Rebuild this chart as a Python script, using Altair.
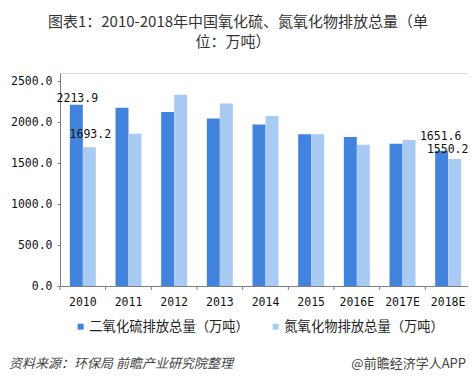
import altair as alt
import pandas as pd

years = ["2010", "2011", "2012", "2013", "2014", "2015", "2016E", "2017E", "2018E"]
so2 = [2213.9, 2177, 2123, 2045, 1970, 1853, 1818, 1736, 1651.6]
nox = [1693.2, 1857, 2334, 2228, 2076, 1853, 1724, 1783, 1550.2]
series = ["二氧化硫排放总量（万吨）", "氮氧化物排放总量（万吨）"]
colors = ["#4283DD", "#A9CAF3"]
title_lines = ["图表1：2010-2018年中国氧化硫、氮氧化物排放总量（单", "位：万吨）"]
source = "资料来源：环保局 前瞻产业研究院整理"
brand = "@前瞻经济学人APP"

rows = []
for i, y in enumerate(years):
    rows.append({"year": y, "series": series[0], "value": so2[i]})
    rows.append({"year": y, "series": series[1], "value": nox[i]})
df = pd.DataFrame(rows)

W, H = 411, 213
mono = "DejaVu Sans Mono"
cjk = "Noto Sans CJK SC"

xenc = alt.X("year:N", sort=years, scale=alt.Scale(paddingInner=0, paddingOuter=0),
             axis=alt.Axis(title=None, ticks=False, labelFont=mono, labelFontSize=11.5,
                           labelColor="#111", labelPadding=10, domainColor="#808080",
                           labelAngle=0))
xoff = alt.XOffset("series:N", sort=series, scale=alt.Scale(paddingOuter=0.757, paddingInner=0))

bars = alt.Chart(df).mark_bar().encode(
    x=xenc,
    xOffset=xoff,
    y=alt.Y("value:Q", scale=alt.Scale(domain=[0, 2500]),
            axis=alt.Axis(title=None, values=[0, 500, 1000, 1500, 2000, 2500], format=".1f",
                          grid=False, tickSize=3, tickColor="#808080", domainColor="#808080",
                          labelFont=mono, labelFontSize=11.5, labelColor="#111", labelPadding=5)),
    color=alt.Color("series:N", sort=series, scale=alt.Scale(domain=series, range=colors),
                    legend=alt.Legend(title=None, orient="none", direction="horizontal",
                                      legendX=14, legendY=247, symbolType="square",
                                      symbolSize=36, symbolStrokeWidth=0, labelFont=cjk,
                                      labelFontSize=13.3, labelColor="#222", columnPadding=20,
                                      labelOffset=2)),
)

ticks_df = pd.DataFrame({"year": years})
xticks = alt.Chart(ticks_df).mark_rule(color="#808080").encode(
    x=alt.X("year:N", sort=years, bandPosition=0),
    y=alt.value(H), y2=alt.value(H + 4),
)
last_tick = alt.Chart(ticks_df.head(1)).mark_rule(color="#808080").encode(
    x=alt.value(W), y=alt.value(H), y2=alt.value(H + 4),
)

def label(year, ser, dx, dy):
    return alt.Chart(df).transform_filter(
        (alt.datum.year == year) & (alt.datum.series == ser)
    ).mark_text(font=mono, fontSize=11.5, color="#111", dx=dx, dy=dy, baseline="alphabetic").encode(
        x=alt.X("year:N", sort=years), xOffset=xoff, y="value:Q",
        text=alt.Text("value:Q", format=".1f"),
    )

labels = [
    label("2010", series[0], 1, -3),
    label("2010", series[1], 1, -9.5),
    label("2018E", series[0], -1, -11),
    label("2018E", series[1], -7, -6.5),
]

tdf = pd.DataFrame({"t": title_lines, "i": [0, 1]})
title1 = alt.Chart(tdf.head(1)).mark_text(font=cjk, fontSize=15, color="#333", align="center",
                                          baseline="alphabetic").encode(
    x=alt.value(178), y=alt.value(-46), text="t:N")
title2 = alt.Chart(tdf.tail(1)).mark_text(font=cjk, fontSize=15, color="#333", align="center",
                                          baseline="alphabetic").encode(
    x=alt.value(173), y=alt.value(-26), text="t:N")

src = alt.Chart(pd.DataFrame({"t": [source]})).mark_text(
    font=cjk, fontSize=13, fontStyle="italic", color="#444", align="left", baseline="alphabetic"
).encode(x=alt.value(-51), y=alt.value(295), text="t:N")
brd = alt.Chart(pd.DataFrame({"t": [brand]})).mark_text(
    font=cjk, fontSize=13, color="#444", align="right", baseline="alphabetic"
).encode(x=alt.value(406), y=alt.value(295), text="t:N")

chart = alt.layer(bars, xticks, last_tick, *labels, title1, title2, src, brd).properties(
    width=W, height=H,
    autosize=alt.AutoSizeParams(type="none"),
    padding={"left": 52, "top": 65, "right": -3, "bottom": 100},
).configure_view(stroke=None).configure(background="white")

chart.save("out.html", embed_options={"renderer": "svg", "actions": False})
